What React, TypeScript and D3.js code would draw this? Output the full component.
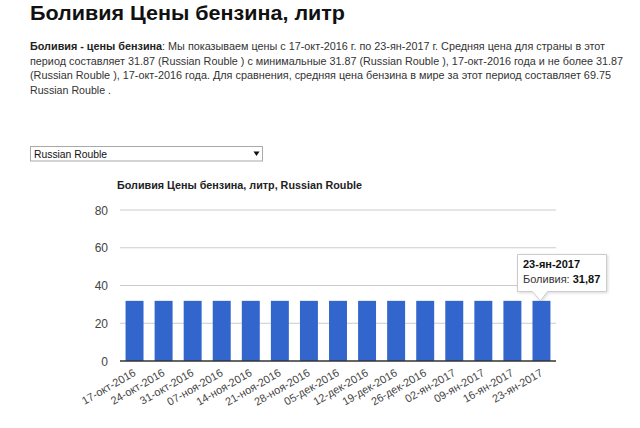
import React from "react";
import * as d3 from "d3";

const categories = [
  "17-окт-2016", "24-окт-2016", "31-окт-2016", "07-ноя-2016", "14-ноя-2016",
  "21-ноя-2016", "28-ноя-2016", "05-дек-2016", "12-дек-2016", "19-дек-2016",
  "26-дек-2016", "02-ян-2017", "09-ян-2017", "16-ян-2017", "23-ян-2017",
];
const values = [31.87, 31.87, 31.87, 31.87, 31.87, 31.87, 31.87, 31.87, 31.87, 31.87, 31.87, 31.87, 31.87, 31.87, 31.87];
const yTicks = [0, 20, 40, 60, 80];

const pageTitle = "Боливия Цены бензина, литр";
const chartTitle = "Боливия Цены бензина, литр, Russian Rouble";
const paragraphLines = [
  [{ b: true, t: "Боливия - цены бензина" }, { b: false, t: ": Мы показываем цены с 17-окт-2016 г. по 23-ян-2017 г. Средняя цена для страны в этот" }],
  [{ b: false, t: "период составляет 31.87 (Russian Rouble ) с минимальные 31.87 (Russian Rouble ), 17-окт-2016 года и не более 31.87" }],
  [{ b: false, t: "(Russian Rouble ), 17-окт-2016 года. Для сравнения, средняя цена бензина в мире за этот период составляет 69.75" }],
  [{ b: false, t: "Russian Rouble ." }],
];
const paragraphWidths = [575, 593, 581, 81];

const W = 640;
const H = 428;
const plot = { left: 120, right: 556, top: 210, bottom: 361 };
const font = "Arial, 'Liberation Sans', sans-serif";

export default function App() {
  const x = d3
    .scaleBand<string>()
    .domain(categories)
    .range([plot.left, plot.right])
    .paddingInner(0.382)
    .paddingOuter(0.191);
  const y = d3.scaleLinear().domain([0, 80]).range([plot.bottom, plot.top]);

  const lastIdx = categories.length - 1;
  const tipX = (x(categories[lastIdx]) as number) + x.bandwidth() / 2;
  const tipY = y(values[lastIdx]);

  return (
    <div style={{ position: "absolute", left: 0, top: 0 }}>
      <svg width={W} height={H} style={{ display: "block", fontFamily: font }}>
        <defs>
          <filter id="sh" x="-20%" y="-20%" width="140%" height="160%">
            <feDropShadow dx="1" dy="1" stdDeviation="1.5" floodColor="#000" floodOpacity="0.15" />
          </filter>
        </defs>
        <rect width={W} height={H} fill="#fff" />
        <text x={30} y={20} fontSize={21} fontWeight="bold" fill="#111" textLength={315} lengthAdjust="spacingAndGlyphs">{pageTitle}</text>
        {paragraphLines.map((line, i) => (
          <text
            key={i}
            x={30}
            y={50 + i * 14.7}
            fontSize={11.1}
            fill="#333"
            textLength={paragraphWidths[i]}
            lengthAdjust="spacingAndGlyphs"
          >
            {line.map((seg, j) => (
              <tspan key={j} fontWeight={seg.b ? "bold" : "normal"} fill={seg.b ? "#222" : "#333"}>{seg.t}</tspan>
            ))}
          </text>
        ))}

        {/* select box */}
        <rect x={30.5} y={146.5} width={232} height={14.5} fill="#fff" stroke="#a9a9a9" />
        <text x={34} y={158} fontSize={11.5} fill="#111" textLength={73} lengthAdjust="spacingAndGlyphs">Russian Rouble</text>
        <path d="M253.5,151.5 L259.5,151.5 L256.5,156 Z" fill="#111" />

        <text x={117} y={189} fontSize={11} fontWeight="bold" fill="#222" textLength={245} lengthAdjust="spacingAndGlyphs">{chartTitle}</text>

        {/* grid */}
        {yTicks.map((t) => (
          <g key={t}>
            {t !== 0 && (
              <line x1={plot.left} x2={plot.right} y1={y(t)} y2={y(t)} stroke="#ccc" strokeWidth={1} />
            )}
            <text x={108} y={y(t) + 4.5} textAnchor="end" fontSize={12} fill="#444">{t}</text>
          </g>
        ))}

        {/* bars */}
        {categories.map((c, i) => (
          <rect
            key={c}
            x={x(c) as number}
            y={y(values[i])}
            width={x.bandwidth()}
            height={plot.bottom - y(values[i])}
            fill="#3366cc"
          />
        ))}
        <line x1={plot.left} x2={plot.right} y1={plot.bottom} y2={plot.bottom} stroke="#333" strokeWidth={1.5} />

        {/* x labels */}
        {categories.map((c) => {
          const cx = (x(c) as number) + x.bandwidth() / 2 + 2;
          const cy = 375;
          return (
            <text
              key={c}
              x={cx}
              y={cy}
              textAnchor="end"
              fontSize={11}
              fill="#444"
              transform={`rotate(-30 ${cx} ${cy})`}
            >
              {c}
            </text>
          );
        })}

        {/* tooltip */}
        <g filter="url(#sh)">
          <path
            d={`M517.5,254.5 L606.5,254.5 L606.5,291.5 L${tipX + 6},291.5 L${tipX - 1},${tipY} L${tipX - 9},291.5 L517.5,291.5 Z`}
            fill="#fff"
            stroke="#ccc"
            strokeWidth={1}
          />
        </g>
        <text x={523} y={268} fontSize={11} fontWeight="bold" fill="#111">{categories[lastIdx]}</text>
        <text x={523} y={283} fontSize={11} fill="#333">
          Боливия: <tspan fontWeight="bold" fill="#111">{values[lastIdx].toFixed(2).replace(".", ",")}</tspan>
        </text>
      </svg>
    </div>
  );
}
